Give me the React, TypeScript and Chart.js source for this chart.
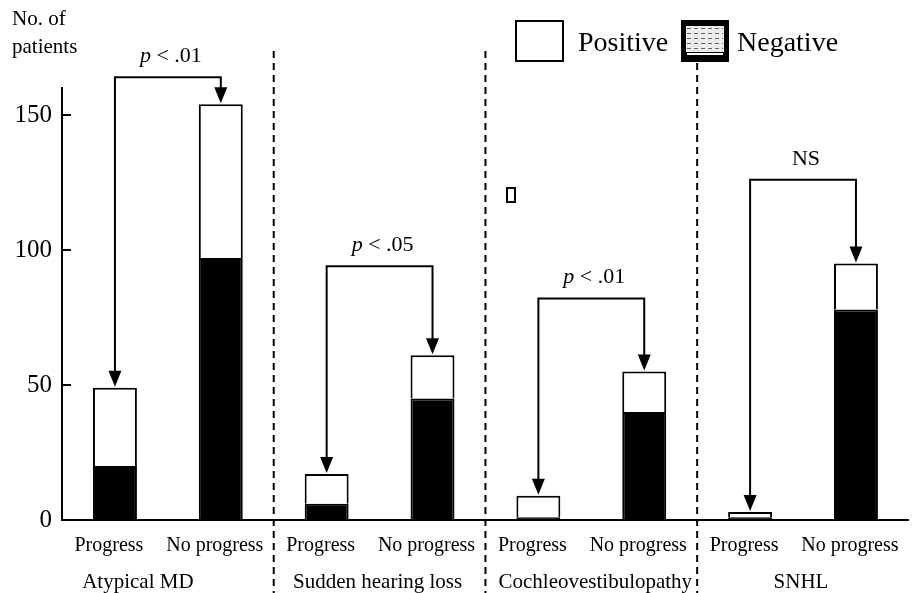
import { useEffect, useRef } from 'react';
import { Chart, registerables } from 'chart.js';

Chart.register(...registerables);

const categories = ['Progress', 'No progress', 'Progress', 'No progress', 'Progress', 'No progress', 'Progress', 'No progress'];
const groups = ['Atypical MD', 'Sudden hearing loss', 'Cochleovestibulopathy', 'SNHL'];
const negativeValues = [20, 97, 6, 45, 1, 40, 1, 78];
const positiveValues = [29, 57, 11, 16, 8, 15, 2, 17];
const yTicks = [0, 50, 100, 150];
const yMax = 160;
const pLabels = ['p < .01', 'p < .05', 'p < .01', 'NS'];
const bracketLevels = [164, 94, 82, 126];
const axisTitleLines = ['No. of', 'patients'];
const seriesNames = ['Negative', 'Positive'];

const FONT = "'Liberation Serif', 'Times New Roman', Times, serif";
const GROUP_LABEL_SHIFT = [-30, -2, 4, -2];

const overlayPlugin = {
  id: 'overlay',
  beforeDraw(chart: any) {
    const { ctx, width, height } = chart;
    ctx.save();
    ctx.fillStyle = '#fff';
    ctx.fillRect(0, 0, width, height);
    ctx.restore();
  },
  afterDraw(chart: any) {
    const { ctx } = chart;
    const x = chart.scales.x;
    const y = chart.scales.y;
    const area = chart.chartArea;
    ctx.save();
    ctx.fillStyle = '#000';
    ctx.strokeStyle = '#000';

    // inward y tick marks
    ctx.lineWidth = 2;
    yTicks.forEach((v) => {
      if (v === 0) return;
      const py = Math.round(y.getPixelForValue(v));
      ctx.beginPath();
      ctx.moveTo(area.left, py);
      ctx.lineTo(area.left + 9, py);
      ctx.stroke();
    });

    // axis title
    ctx.font = `21px ${FONT}`;
    ctx.textAlign = 'left';
    ctx.textBaseline = 'middle';
    ctx.fillText(axisTitleLines[0], 12, 19);
    ctx.fillText(axisTitleLines[1], 12, 47);

    // dashed separators
    ctx.setLineDash([7, 5]);
    ctx.lineWidth = 2;
    for (let i = 1; i < categories.length - 1; i += 2) {
      const sx = (x.getPixelForValue(i) + x.getPixelForValue(i + 1)) / 2;
      const startY = i === 5 ? 63 : 51;
      ctx.beginPath();
      ctx.moveTo(sx, startY);
      ctx.lineTo(sx, chart.height);
      ctx.stroke();
    }
    ctx.setLineDash([]);

    // group labels
    ctx.font = `21px ${FONT}`;
    ctx.textAlign = 'center';
    ctx.textBaseline = 'middle';
    groups.forEach((g, gi) => {
      const cx = (x.getPixelForValue(gi * 2) + x.getPixelForValue(gi * 2 + 1)) / 2 + GROUP_LABEL_SHIFT[gi];
      ctx.fillText(g, cx, 582);
    });

    // brackets with arrows
    const arrowW = 13;
    const arrowH = 16;
    groups.forEach((_, gi) => {
      const li = gi * 2;
      const ri = gi * 2 + 1;
      const xl = x.getPixelForValue(li);
      const xr = x.getPixelForValue(ri);
      const yl = y.getPixelForValue(negativeValues[li] + positiveValues[li]) - 1;
      const yr = y.getPixelForValue(negativeValues[ri] + positiveValues[ri]) - 1;
      const yb = y.getPixelForValue(bracketLevels[gi]);
      ctx.lineWidth = 2;
      ctx.beginPath();
      ctx.moveTo(xl, yl - arrowH + 1);
      ctx.lineTo(xl, yb);
      ctx.lineTo(xr, yb);
      ctx.lineTo(xr, yr - arrowH + 1);
      ctx.stroke();
      [[xl, yl], [xr, yr]].forEach(([ax, ay]) => {
        ctx.beginPath();
        ctx.moveTo(ax, ay);
        ctx.lineTo(ax - arrowW / 2, ay - arrowH);
        ctx.lineTo(ax + arrowW / 2, ay - arrowH);
        ctx.closePath();
        ctx.fill();
      });
      // label
      const label = pLabels[gi];
      const cx = (xl + xr) / 2 + 3;
      const ty = yb - 21;
      ctx.textBaseline = 'middle';
      if (label.startsWith('p')) {
        const rest = label.slice(1);
        ctx.font = `italic 22px ${FONT}`;
        const w1 = ctx.measureText('p').width;
        ctx.font = `22px ${FONT}`;
        const w2 = ctx.measureText(rest).width;
        const start = cx - (w1 + w2) / 2;
        ctx.textAlign = 'left';
        ctx.font = `italic 22px ${FONT}`;
        ctx.fillText('p', start, ty);
        ctx.font = `22px ${FONT}`;
        ctx.fillText(rest, start + w1, ty);
      } else {
        ctx.textAlign = 'center';
        ctx.font = `22px ${FONT}`;
        ctx.fillText(label, cx, ty);
      }
    });

    // legend
    const boxY = 21;
    const boxH = 40;
    // Positive box
    ctx.lineWidth = 2;
    ctx.fillStyle = '#fff';
    ctx.fillRect(516, boxY, 47, boxH);
    ctx.strokeStyle = '#000';
    ctx.strokeRect(516, boxY, 47, boxH);
    // Negative box (patterned)
    const nx = 682;
    const nw = 46;
    ctx.fillStyle = '#000';
    ctx.fillRect(nx - 1, boxY - 1, nw + 2, boxH + 2);
    ctx.fillStyle = '#ececec';
    ctx.fillRect(nx + 4, boxY + 5, nw - 8, boxH - 14);
    ctx.strokeStyle = '#666';
    ctx.lineWidth = 1;
    ctx.setLineDash([4, 3]);
    for (let ly = boxY + 7; ly < boxY + boxH - 10; ly += 5) {
      ctx.beginPath();
      ctx.moveTo(nx + 5, ly + 0.5);
      ctx.lineTo(nx + nw - 5, ly + 0.5);
      ctx.stroke();
    }
    ctx.setLineDash([]);
    ctx.fillStyle = '#fff';
    ctx.fillRect(nx + 5, boxY + boxH - 8, nw - 10, 2);
    ctx.fillStyle = '#000';
    ctx.font = `28px ${FONT}`;
    ctx.textAlign = 'left';
    ctx.textBaseline = 'middle';
    ctx.fillText(seriesNames[1], 578, 44);
    ctx.fillText(seriesNames[0], 737, 44);

    // stray small box mark
    ctx.strokeStyle = '#000';
    ctx.lineWidth = 2;
    ctx.strokeRect(507, 188, 8, 14);

    ctx.restore();
  },
};

export default function App() {
  const ref = useRef<HTMLCanvasElement | null>(null);
  useEffect(() => {
    if (!ref.current) return;
    const chart = new Chart(ref.current, {
      type: 'bar',
      data: {
        labels: categories,
        datasets: [
          {
            label: seriesNames[0],
            data: negativeValues,
            backgroundColor: '#000',
            borderColor: '#000',
            borderWidth: 2,
            barPercentage: 0.415,
            categoryPercentage: 1,
          },
          {
            label: seriesNames[1],
            data: positiveValues,
            backgroundColor: '#fff',
            borderColor: '#000',
            borderWidth: 2,
            barPercentage: 0.415,
            categoryPercentage: 1,
          },
        ],
      },
      options: {
        responsive: false,
        animation: false,
        events: [],
        layout: { padding: { top: 88, right: 7, left: 0, bottom: 0 } },
        plugins: { legend: { display: false }, tooltip: { enabled: false } },
        scales: {
          x: {
            stacked: true,
            grid: { display: false, drawTicks: false },
            border: { display: true, color: '#000', width: 2 },
            ticks: {
              color: '#000',
              font: { family: FONT, size: 20 },
              padding: 14,
              maxRotation: 0,
              autoSkip: false,
              labelOffset: -6,
            },
            afterFit: (s: any) => {
              s.height = 73;
            },
          },
          y: {
            stacked: true,
            min: 0,
            max: yMax,
            grid: { display: false, drawTicks: false },
            border: { display: true, color: '#000', width: 2 },
            ticks: {
              color: '#000',
              font: { family: FONT, size: 25 },
              padding: 10,
              stepSize: 50,
            },
            afterBuildTicks: (s: any) => {
              s.ticks = yTicks.map((v) => ({ value: v }));
            },
            afterFit: (s: any) => {
              s.width = 62;
            },
          },
        },
      },
      plugins: [overlayPlugin],
    });
    return () => chart.destroy();
  }, []);
  return (
    <div style={{ position: 'fixed', left: 0, top: 0, width: 919, height: 593 }}>
      <canvas ref={ref} width={919} height={593} style={{ width: 919, height: 593, display: 'block' }} />
    </div>
  );
}
